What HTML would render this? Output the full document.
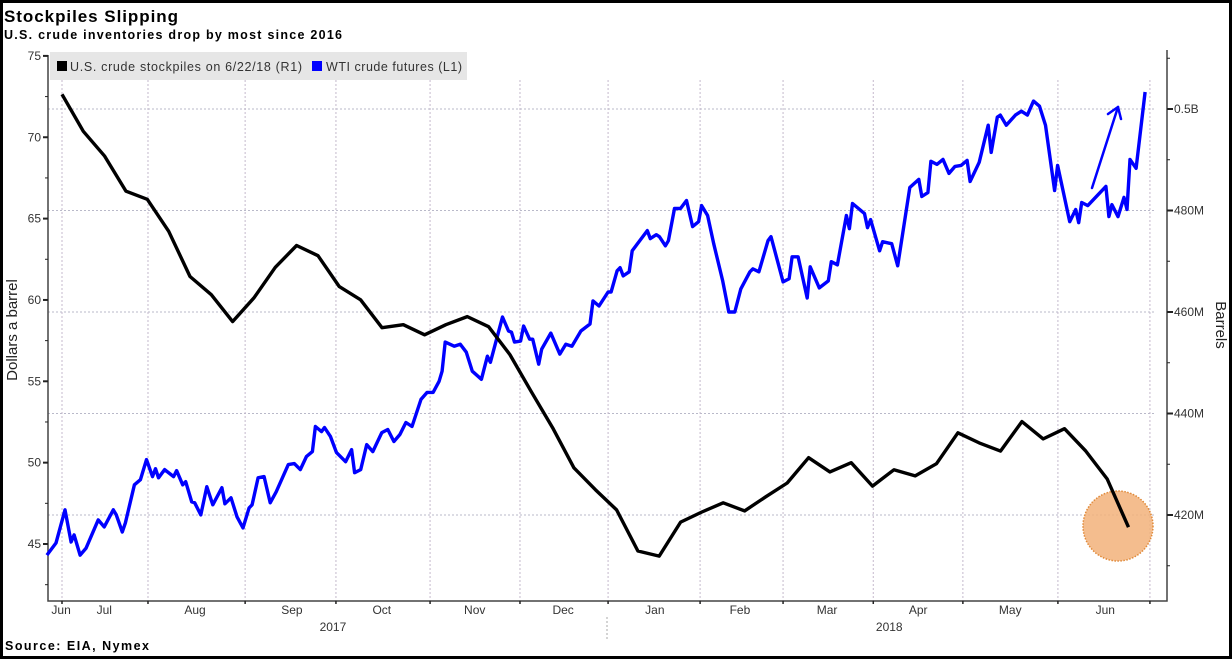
<!DOCTYPE html>
<html><head><meta charset="utf-8"><style>
html,body{margin:0;padding:0;background:#fff}
svg{display:block}
text{font-family:"Liberation Sans",sans-serif}
</style></head><body>
<svg id="chart" width="1232" height="659" viewBox="0 0 1232 659">
<rect x="1.5" y="1.5" width="1229" height="656" fill="#fff" stroke="#000" stroke-width="3"/>
<text x="4" y="22" font-size="17" font-weight="bold" textLength="174">Stockpiles Slipping</text>
<text x="4" y="39" font-size="12.5" font-weight="bold" textLength="338">U.S. crude inventories drop by most since 2016</text>
<text x="5" y="650" font-size="12.5" font-weight="bold" textLength="144">Source: EIA, Nymex</text>
<g id="grid"></g>
<g id="axes"></g>
<rect x="50" y="52" width="417" height="28" fill="#e6e6e6"/>
<rect x="57" y="61" width="10" height="10" fill="#000"/>
<text x="70" y="71" font-size="12.5" fill="#333" textLength="232">U.S. crude stockpiles on 6/22/18 (R1)</text>
<rect x="312" y="61" width="10" height="10" fill="#0000ff"/>
<text x="326" y="71" font-size="12.5" fill="#333" textLength="136">WTI crude futures (L1)</text>
<circle cx="1118" cy="526" r="35" fill="#f2b27a" fill-opacity="0.85" stroke="#e08a3a" stroke-width="1.5" stroke-dasharray="1.5 1.5"/>
<g id="series"></g>
<g stroke="#0000ff" stroke-width="2.5" fill="none" stroke-linecap="round" stroke-linejoin="round">
<line x1="1092" y1="188" x2="1118" y2="107"/>
<polyline points="1108,114 1118,107 1121,119"/>
</g>
<text transform="translate(17,330) rotate(-90)" text-anchor="middle" font-size="15" fill="#222">Dollars a barrel</text>
<text transform="translate(1216,325) rotate(90)" text-anchor="middle" font-size="15" fill="#222">Barrels</text>
</svg>
<script>
// ---- data ----
const blackValues = [502.9,495.6,490.7,483.8,482.2,475.9,467.0,463.4,458.1,462.8,468.8,473.1,471.1,465.0,462.4,456.9,457.5,455.5,457.5,459.1,457.1,451.6,444.3,437.2,429.3,425.0,421.0,412.9,411.9,418.6,420.6,422.4,420.8,423.6,426.3,431.3,428.5,430.3,425.7,428.9,427.7,430.1,436.2,434.2,432.6,438.4,435.0,437.0,432.6,427.1,417.6];
const blueDays = [-5,-2,1,3,4,6,8,12,14,17,18,20,21,24,26,28,30,31,32,34,37,38,40,41,43,44,46,48,50,53,54,56,58,60,62,63,65,67,69,71,75,77,79,81,83,84,86,87,89,91,94,96,97,99,101,103,106,108,110,112,114,116,119,121,123,125,126,127,130,132,134,136,139,141,142,146,148,149,150,152,153,155,156,158,159,162,165,167,169,172,175,176,178,181,182,184,185,186,188,189,191,194,195,197,198,200,201,203,205,207,209,211,212,214,216,219,221,223,225,228,229,231,234,235,239,241,242,244,247,248,251,254,255,257,260,261,262,266,267,268,271,272,275,277,281,284,285,287,288,290,292,294,296,298,300,301,304,307,308,310,311,313,316,318,320,322,324,326,329,330,334,336,337,338,340,346,347,348,350,352,353,354,356,359];
const blueValues = [44.32,45.06,47.10,45.12,45.56,44.32,44.75,46.48,46.05,47.10,46.79,45.74,46.30,48.64,48.95,50.19,49.14,49.63,49.07,49.57,49.14,49.51,48.64,48.83,47.59,47.53,46.79,48.52,47.41,48.46,47.47,47.84,46.67,45.99,47.22,47.41,49.07,49.14,47.53,48.21,49.88,49.94,49.57,50.37,50.68,52.22,51.91,52.16,51.60,50.62,50.06,50.80,49.38,49.57,51.11,50.68,51.85,52.04,51.30,51.73,52.47,52.22,53.89,54.32,54.32,55.00,55.62,57.41,57.16,57.28,56.79,55.62,55.12,56.54,56.17,58.95,58.09,58.02,57.41,57.47,58.40,57.59,57.59,56.05,56.98,57.96,56.67,57.28,57.16,58.09,58.52,59.94,59.63,60.49,60.49,61.79,61.98,61.48,61.73,63.02,63.52,64.26,63.77,64.01,63.89,63.33,63.64,65.62,65.62,66.11,64.51,64.81,65.80,65.19,63.46,61.17,59.26,59.26,60.68,61.73,61.91,61.73,63.64,63.89,61.11,61.30,62.65,62.65,60.12,62.04,60.74,61.17,62.35,62.16,65.19,64.38,65.93,65.31,64.44,64.94,63.02,63.58,63.46,62.10,66.91,67.41,66.36,66.60,68.52,68.33,68.64,67.78,68.21,68.27,68.58,67.28,68.46,70.74,69.07,71.23,71.36,70.74,71.36,71.60,71.36,72.22,71.91,70.74,66.73,68.27,64.81,65.56,64.75,65.99,65.80,66.98,65.12,65.86,65.12,66.30,65.56,68.64,68.09,72.78];
const leftTicks = [45,50,55,60,65,70,75];
const rightTicks = [420,440,460,480,500];
const rightTickLabels = ["420M","440M","460M","480M","0.5B"];
const monthGridDays = [0,28.5,60.7,90.8,122.0,151.8,181.0,211.5,239.0,268.9,298.6,330.1,360.6];
const monthLabels = ["Jun","Jul","Aug","Sep","Oct","Nov","Dec","Jan","Feb","Mar","Apr","May","Jun"];
const monthLabelDays = [-0.3,14,44.1,76.2,106.0,136.8,166.1,196.5,224.7,253.6,283.8,314.3,345.8];
const yearLabels = ["2017","2018"];
const yearLabelDays = [89.8,274.2];

// ---- scales ----
const X0=48, X1=1167, YB=601, YT=50;
const blackStepDays = 7.07;
const xS = d => 62 + d*3.017;
const yL = v => 544 - (v-45)*16.27;
const yR = v => 515 - (v-420)*5.075;
const NS="http://www.w3.org/2000/svg";
function mk(tag, attrs, parent){const e=document.createElementNS(NS,tag);for(const k in attrs)e.setAttribute(k,attrs[k]);parent.appendChild(e);return e;}
const grid=document.getElementById('grid'), axes=document.getElementById('axes'), series=document.getElementById('series');

rightTicks.forEach(v=>{
  const l=mk('line',{x1:X0,x2:X1-12,y1:yR(v),y2:yR(v),stroke:'#b9b9c9','stroke-width':1,'stroke-dasharray':'2 2'},grid);
  
  
});
monthGridDays.forEach(d=>{
  const l=mk('line',{x1:xS(d),x2:xS(d),y1:YT+30,y2:YB,stroke:'#c4b9cc','stroke-width':1,'stroke-dasharray':'2 2'},grid);
  
  
});

mk('path',{d:`M${X0},${YT+5} L${X0},${YB} L${X1},${YB} L${X1},${YT}`,stroke:'#444','stroke-width':1.5,fill:'none'},axes);
for(let v=42.5; v<=75; v+=2.5){
  const major = leftTicks.includes(v);
  mk('line',{x1:X0-(major?5:3),x2:X0,y1:yL(v),y2:yL(v),stroke:'#222','stroke-width':major?2:1},axes);
}
leftTicks.forEach(v=>{
  const t=mk('text',{x:X0-7,y:yL(v)+4,'text-anchor':'end','font-size':12,fill:'#333'},axes);
  t.textContent=v;
  
  
});
for(let v=410; v<=510; v+=10){
  const major = rightTicks.includes(v);
  mk('line',{x1:X1,x2:X1+(major?6:3),y1:yR(v),y2:yR(v),stroke:'#222','stroke-width':major?2:1},axes);
}
rightTicks.forEach((v,i)=>{
  const t=mk('text',{x:X1+7,y:yR(v)+4,'font-size':12,fill:'#333'},axes);
  t.textContent=rightTickLabels[i];
  
  
});
monthGridDays.forEach(d=>{mk('line',{x1:xS(d),x2:xS(d),y1:YB,y2:YB+3,stroke:'#222','stroke-width':1.5},axes);});
monthLabels.forEach((m,i)=>{
  const t=mk('text',{x:xS(monthLabelDays[i]),y:614,'text-anchor':'middle','font-size':12,fill:'#333'},axes);
  t.textContent=m;
  
  
});
yearLabels.forEach((y,i)=>{
  const t=mk('text',{x:xS(yearLabelDays[i]),y:631,'text-anchor':'middle','font-size':12,fill:'#333'},axes);
  t.textContent=y;
  
  
});
mk('line',{x1:607,x2:607,y1:617,y2:640,stroke:'#aaa','stroke-width':1,'stroke-dasharray':'2 2'},axes);

const bluePts = blueValues.map((v,i)=>xS(blueDays[i]).toFixed(1)+','+yL(v).toFixed(1)).join(' ');
const bl=mk('polyline',{points:bluePts,fill:'none',stroke:'#0000ff','stroke-width':3.4,'stroke-linejoin':'round'},series);


const blackPts = blackValues.map((v,i)=>xS(i*blackStepDays).toFixed(1)+','+yR(v).toFixed(1)).join(' ');
const kl=mk('polyline',{points:blackPts,fill:'none',stroke:'#000','stroke-width':3.4,'stroke-linejoin':'round'},series);


</script>
</body></html>
